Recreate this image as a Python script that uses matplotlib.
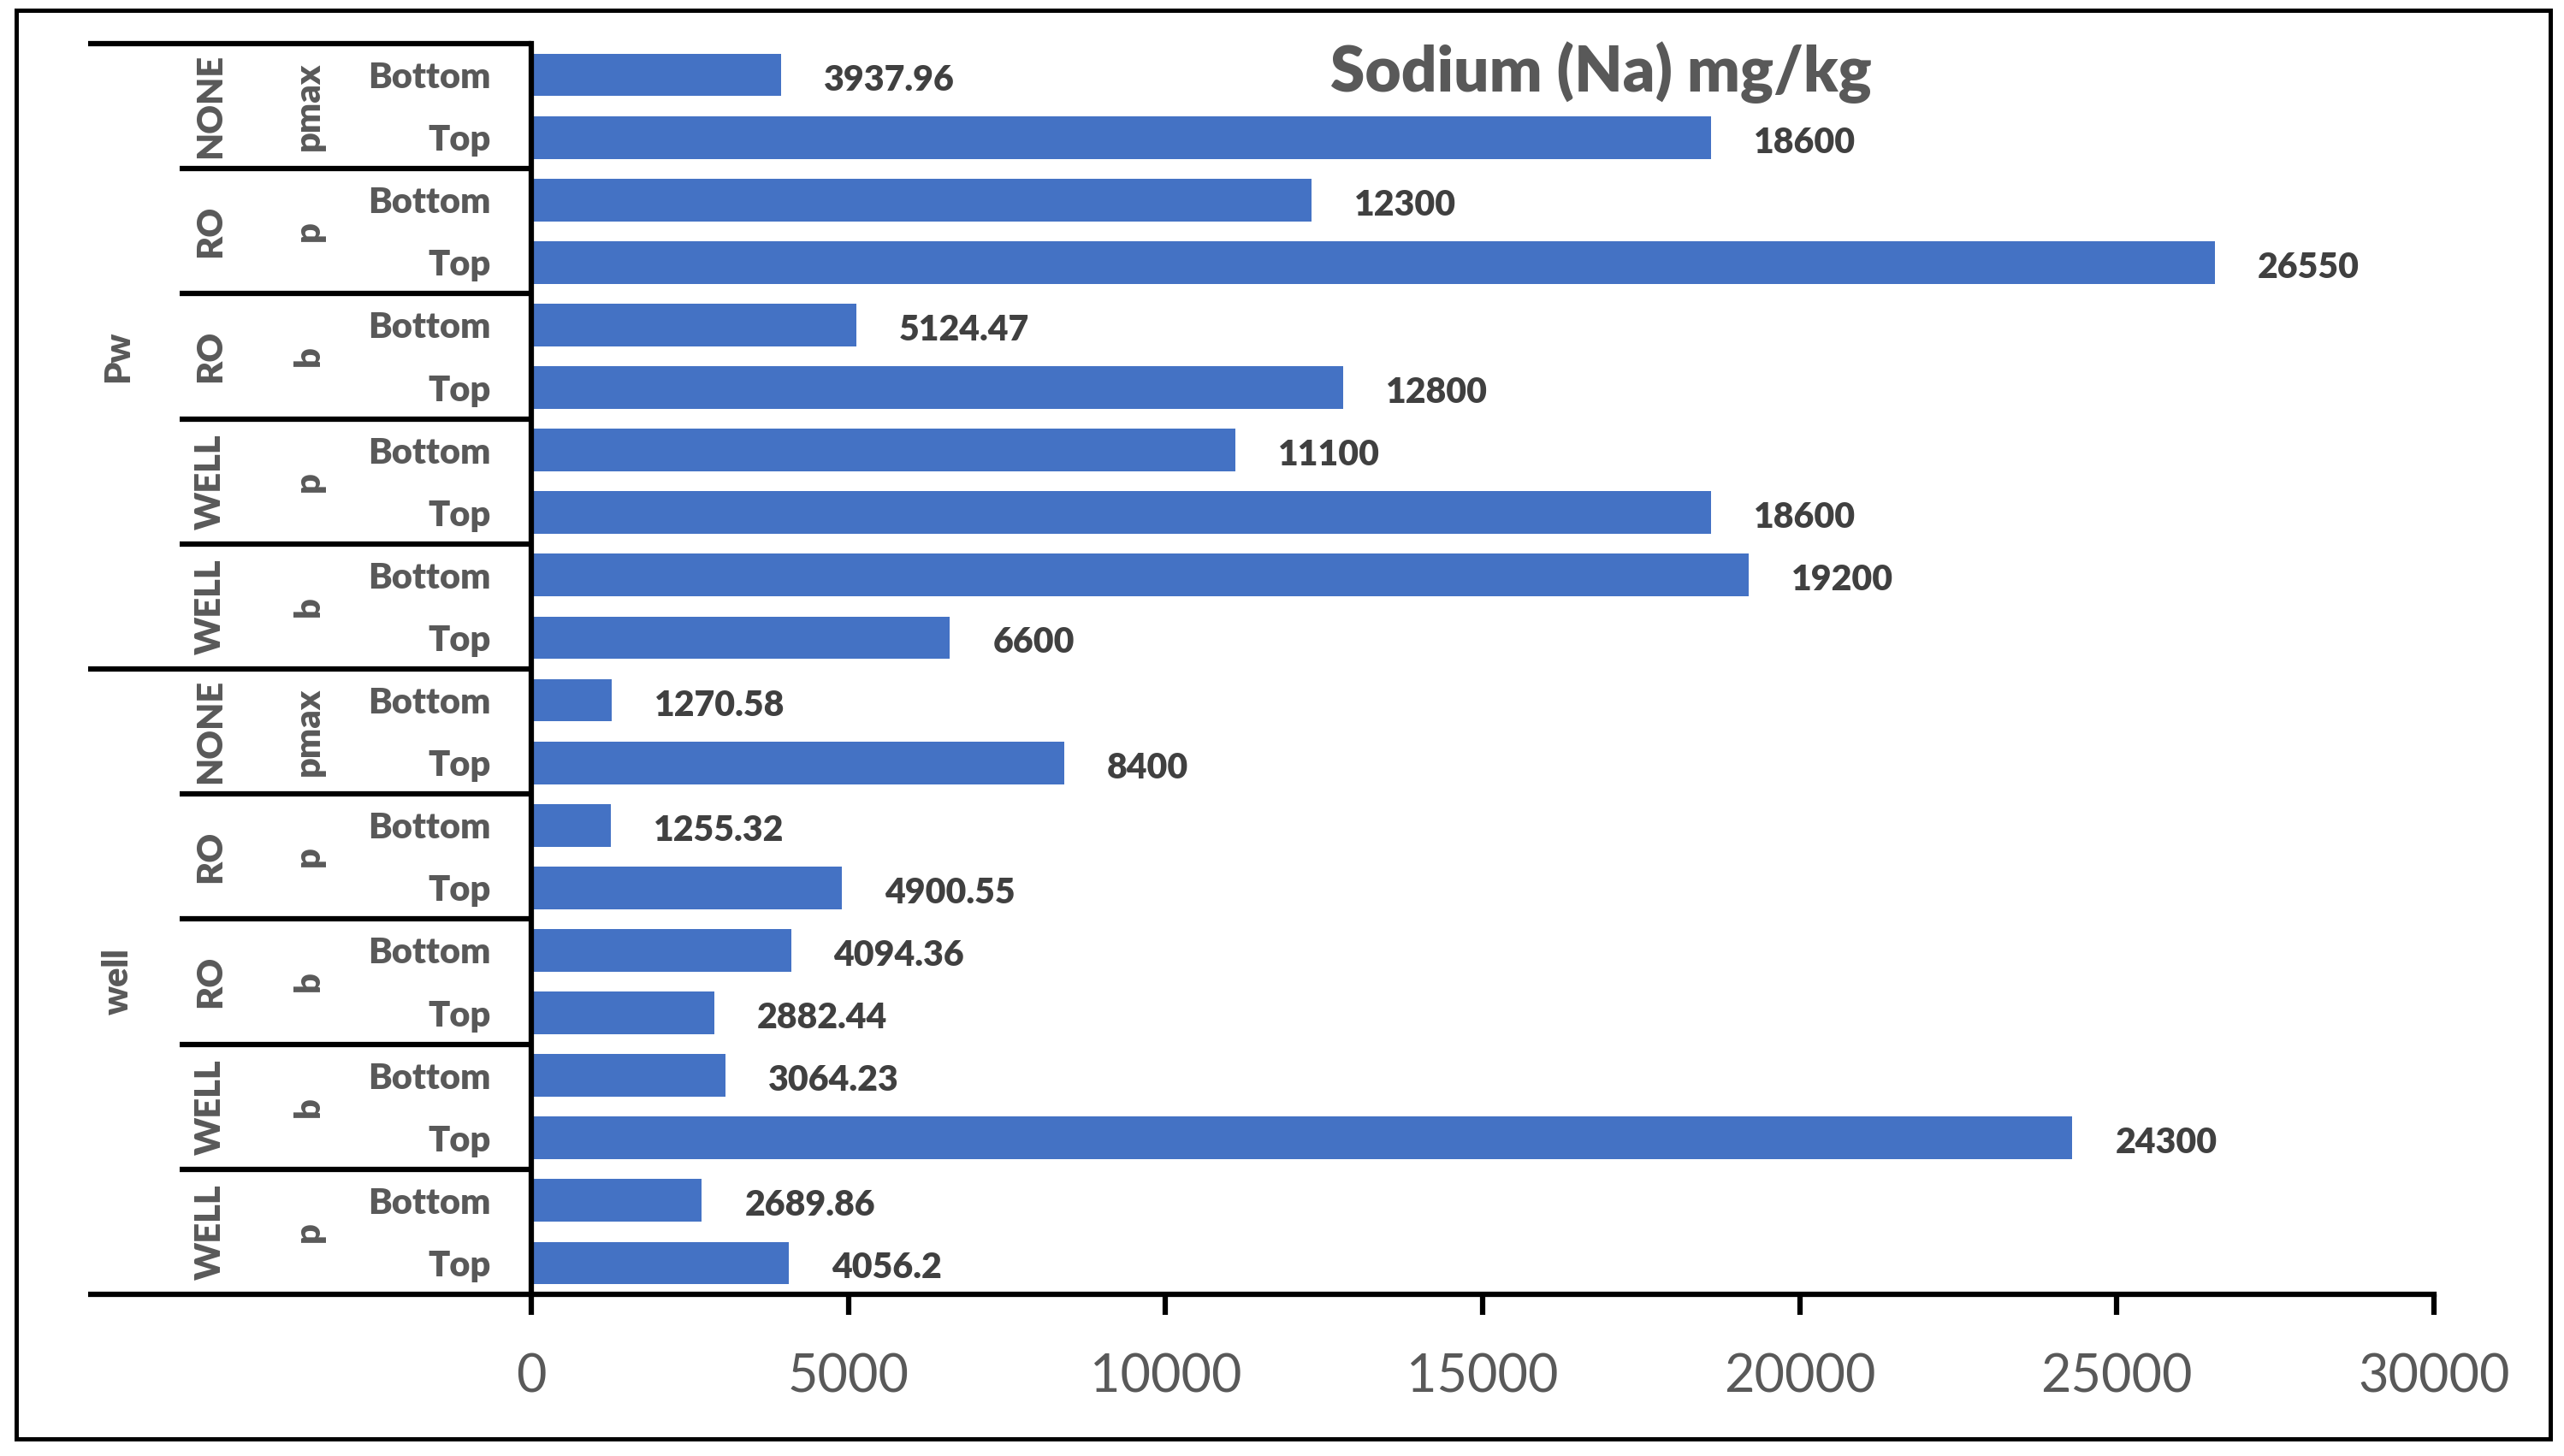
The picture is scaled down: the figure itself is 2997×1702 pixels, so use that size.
import matplotlib
matplotlib.use("Agg")
import matplotlib.pyplot as plt
import matplotlib.transforms as mtransforms
from matplotlib.patches import Rectangle

# data, top to bottom as in the chart
outer_groups = ["Pw", "well"]
source_labels = ["NONE", "RO", "RO", "WELL", "WELL",
                 "NONE", "RO", "RO", "WELL", "WELL"]
type_labels = ["pmax", "p", "b", "p", "b",
               "pmax", "p", "b", "b", "p"]
position_labels = ["Bottom", "Top"] * 10
sodium = [3937.96, 18600, 12300, 26550, 5124.47, 12800, 11100, 18600, 19200, 6600,
          1270.58, 8400, 1255.32, 4900.55, 4094.36, 2882.44, 3064.23, 24300, 2689.86, 4056.2]
x_ticks = [0, 5000, 10000, 15000, 20000, 25000, 30000]

plt.rcParams["font.family"] = ["Lato", "DejaVu Sans"]
GREY = "#595959"
WT = "heavy"

W, H = 2997, 1702
fig = plt.figure(figsize=(W / 100, H / 100), dpi=100)
ax = fig.add_axes([621 / W, 1 - 1513 / H, (2845 - 621) / W, (1513 - 51) / H])

ypos = list(range(len(sodium)))
ax.barh(ypos, sodium, height=0.68, color="#4472C4")
ax.set_ylim(len(sodium) - 0.5, -0.5)
ax.set_xlim(0, 30000)

lab_tr = mtransforms.offset_copy(ax.transData, fig, x=50, y=-6, units="dots")
for y, v in zip(ypos, sodium):
    ax.text(v, y, f"{v:g}", transform=lab_tr,
            ha="left", va="center", fontsize=29.5, fontweight=WT, color="#404040")

ax.set_yticks(ypos)
ax.set_yticklabels(position_labels, fontsize=30, fontweight=WT, color=GREY)
ax.tick_params(axis="y", length=0, pad=34)
ax.set_xticks(x_ticks)
ax.set_xticklabels([str(t) for t in x_ticks], fontsize=44, color=GREY)
ax.tick_params(axis="x", direction="out", length=17, width=4.5, pad=32)

for s in ["top", "right"]:
    ax.spines[s].set_visible(False)
for s in ["left", "bottom"]:
    ax.spines[s].set_linewidth(4.5)
    ax.spines[s].set_capstyle("projecting")

trans = mtransforms.blended_transform_factory(ax.transAxes, ax.transData)
x_outer, x_inner = (103 - 621) / 2224, (210 - 621) / 2224

# group separator lines
for k in range(len(source_labels) + 1):
    yb = 2 * k - 0.5
    x0 = x_outer if k % 5 == 0 else x_inner
    ax.plot([x0, 0], [yb, yb], transform=trans, color="black", lw=4.5,
            clip_on=False, solid_capstyle="butt")

for k, (src, typ) in enumerate(zip(source_labels, type_labels)):
    yc = 2 * k + 0.5
    ax.text((246 - 621) / 2224, yc, src, transform=trans, rotation=90, ha="center", va="center",
            fontsize=30, fontweight=WT, color=GREY)
    ax.text((361 - 621) / 2224, yc, typ, transform=trans, rotation=90, ha="center", va="center",
            fontsize=30, fontweight=WT, color=GREY)

for g, name in enumerate(outer_groups):
    ax.text((138 - 621) / 2224, 10 * g + 4.5, name, transform=trans, rotation=90,
            ha="center", va="center", fontsize=30, fontweight=WT, color=GREY)

fig.text(1871 / W, 1 - 107 / H, "Sodium (Na) mg/kg", ha="center", va="baseline",
         fontsize=52.5, fontweight=WT, color=GREY)

fig.patches.append(Rectangle((19 / W, 1 - 1682 / H), 2962 / W, 1670 / H, transform=fig.transFigure,
                             fill=False, edgecolor="black", lw=3.6))

fig.savefig("out.png", dpi=100)
